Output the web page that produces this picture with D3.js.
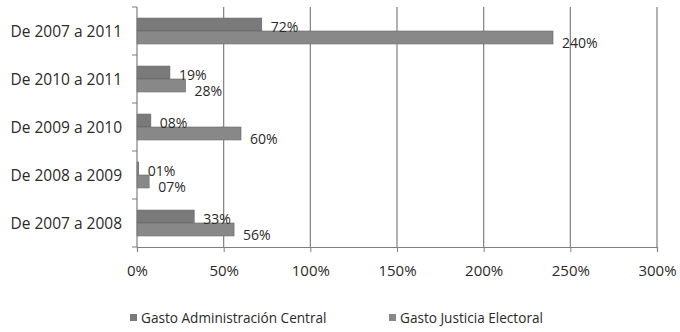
<!DOCTYPE html>
<html>
<head>
<meta charset="utf-8">
<script src="https://cdn.jsdelivr.net/npm/d3@7"></script>
<style>
  body { margin: 0; background: #fff; }
  text { font-family: "Open Sans", "Liberation Sans", sans-serif; fill: #2a2a2a; }
</style>
</head>
<body>
<div id="chart"></div>
<script>
const width = 680;
const height = 332;

// datos
const periodos = ["De 2007 a 2011", "De 2010 a 2011", "De 2009 a 2010", "De 2008 a 2009", "De 2007 a 2008"];
const gastoAdministracion = [72, 19, 8, 1, 33];
const gastoJusticia = [240, 28, 60, 7, 56];
const etiquetasAdm = ["72%", "19%", "08%", "01%", "33%"];
const etiquetasJus = ["240%", "28%", "60%", "07%", "56%"];
const ticks = [0, 50, 100, 150, 200, 250, 300];
const series = ["Gasto Administración Central", "Gasto Justicia Electoral"];
const colores = ["#7a7a7a", "#888888"];

const margin = { top: 7, right: 23, bottom: 85, left: 137 };

const svg = d3.select("#chart")
  .append("svg")
  .attr("width", width)
  .attr("height", height);

const x = d3.scaleLinear()
  .domain([0, 300])
  .range([margin.left, width - margin.right]);

const y = d3.scaleBand()
  .domain(periodos)
  .range([margin.top, height - margin.bottom])
  .paddingInner(0.46)
  .paddingOuter(0.23);

const ySub = d3.scaleBand()
  .domain([0, 1])
  .range([0, y.bandwidth()]);

// rejilla
svg.append("g")
  .selectAll("line")
  .data(ticks.slice(1))
  .enter()
  .append("line")
  .attr("x1", d => x(d))
  .attr("x2", d => x(d))
  .attr("y1", margin.top)
  .attr("y2", height - margin.bottom)
  .attr("stroke", "#7f7f7f")
  .attr("stroke-width", 1.2);

// barras
const filas = periodos.map((p, i) => ({
  periodo: p,
  valores: [gastoAdministracion[i], gastoJusticia[i]],
  etiquetas: [etiquetasAdm[i], etiquetasJus[i]]
}));

const grupo = svg.append("g")
  .selectAll("g")
  .data(filas)
  .enter()
  .append("g")
  .attr("transform", d => `translate(0,${y(d.periodo)})`);

grupo.selectAll("rect")
  .data(d => d.valores.map((v, k) => ({ v, k })))
  .enter()
  .append("rect")
  .attr("x", x(0))
  .attr("y", d => ySub(d.k))
  .attr("width", d => x(d.v) - x(0))
  .attr("height", ySub.bandwidth())
  .attr("fill", d => colores[d.k])
  .attr("stroke", "#666")
  .attr("stroke-width", 0.6);

grupo.selectAll("text")
  .data(d => d.valores.map((v, k) => ({ v, k, t: d.etiquetas[k] })))
  .enter()
  .append("text")
  .attr("x", d => x(d.v) + 9)
  .attr("y", d => ySub(d.k) + ySub.bandwidth() / 2 + (d.k === 0 ? 7.5 : 10.5))
  .attr("font-size", 14)
  .text(d => d.t);

// eje y
const yAxis = svg.append("g")
  .attr("transform", `translate(${margin.left},0)`);
yAxis.append("line")
  .attr("x1", 0).attr("x2", 0)
  .attr("y1", margin.top).attr("y2", height - margin.bottom)
  .attr("stroke", "#7f7f7f").attr("stroke-width", 1.2);
const limites = periodos.map(p => y(p) - y.step() * y.paddingInner() / 2)
  .concat([height - margin.bottom]);
yAxis.selectAll("line.tick")
  .data(limites)
  .enter()
  .append("line")
  .attr("class", "tick")
  .attr("x1", -5).attr("x2", 0)
  .attr("y1", d => d).attr("y2", d => d)
  .attr("stroke", "#7f7f7f");
yAxis.selectAll("text")
  .data(periodos)
  .enter()
  .append("text")
  .attr("x", -15)
  .attr("y", d => y(d) + y.bandwidth() / 2 + 6)
  .attr("text-anchor", "end")
  .attr("font-size", 15.5)
  .text(d => d);

// eje x
const xAxis = svg.append("g")
  .attr("transform", `translate(0,${height - margin.bottom})`)
  .call(d3.axisBottom(x).tickValues(ticks).tickFormat(d => d + "%").tickSize(5).tickPadding(13));
xAxis.select(".domain").attr("stroke", "#7f7f7f").attr("stroke-width", 1.2);
xAxis.selectAll(".tick line").attr("stroke", "#7f7f7f");
xAxis.selectAll(".tick text")
  .attr("font-size", 15)
  .attr("font-family", "\"Open Sans\", \"Liberation Sans\", sans-serif")
  .attr("fill", "#2a2a2a");

// leyenda
const leyendaX = [130, 389];
const leyenda = svg.append("g")
  .selectAll("g")
  .data(series)
  .enter()
  .append("g")
  .attr("transform", (d, i) => `translate(${leyendaX[i]},323)`);
leyenda.append("rect")
  .attr("x", 0).attr("y", -9)
  .attr("width", 7).attr("height", 7)
  .attr("fill", (d, i) => colores[i]);
leyenda.append("text")
  .attr("x", 11)
  .attr("y", 0)
  .attr("font-size", 13.6)
  .text(d => d);
</script>
</body>
</html>
